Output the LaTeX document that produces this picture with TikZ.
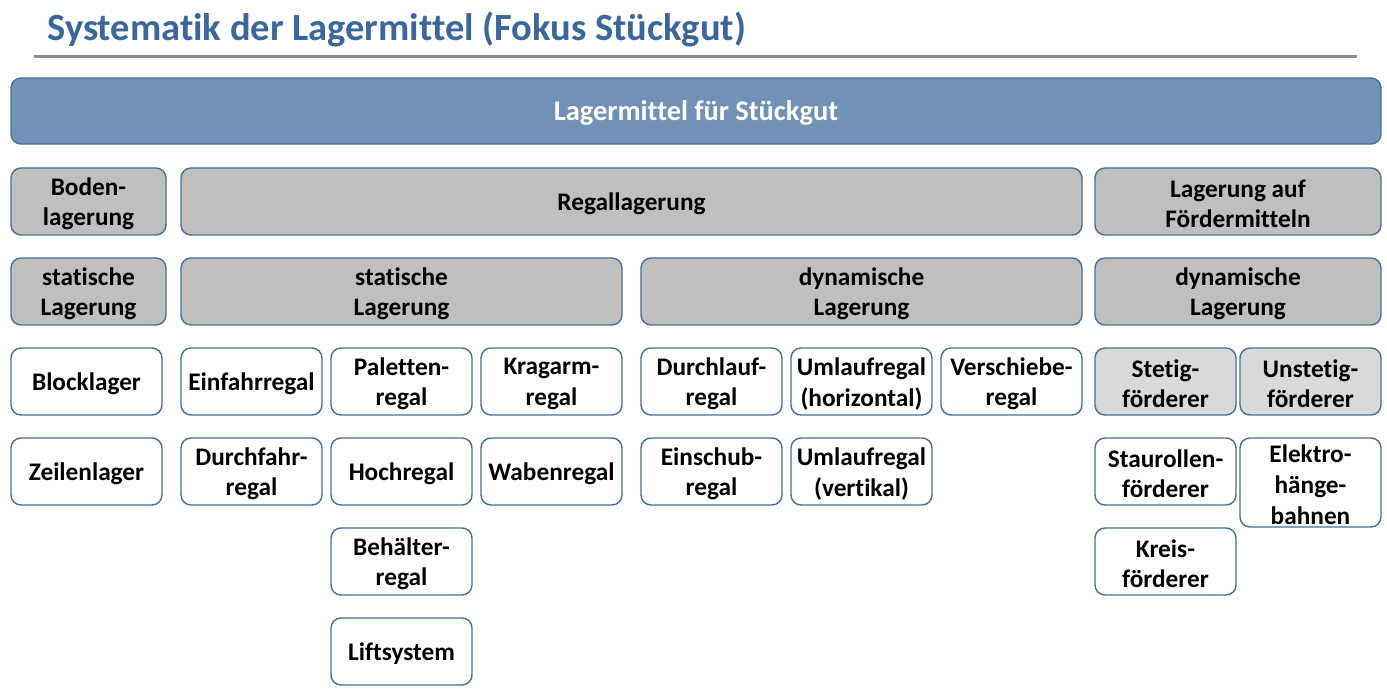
\documentclass[tikz,border=0pt]{standalone}
\usepackage{fontspec}
\setmainfont[Ligatures={NoCommon}]{Carlito}
\definecolor{titleblue}{HTML}{3A679C}
\definecolor{topfill}{HTML}{7092B6}
\definecolor{boxborder}{HTML}{41719C}
\definecolor{grayfill}{HTML}{BFBFBF}
\definecolor{lightfill}{HTML}{D9D9D9}
\definecolor{rulegray}{HTML}{8C8C8C}
\newcommand{\mybox}[7]{%
  \node[#6, minimum width={(#4-#2)*0.02cm}, minimum height={(#5-#3)*0.02cm}]
    (#1) at ({(#2+#4)/2},{(#3+#5)/2}) {};
  \node[boxtext, #6text] (#1-t) at ([yshift=-0.045cm]#1.center) {#7};}
\begin{document}
\begin{tikzpicture}[x=0.02cm,y=-0.02cm,
  basebox/.style={draw=boxborder, line width=0.8pt, rounded corners=0.2cm, inner sep=0pt},
  boxtext/.style={align=center, inner sep=0pt, font=\fontsize{14.4pt}{17.5pt}\selectfont\bfseries},
  topbox/.style={basebox, fill=topfill},
  topboxtext/.style={text=white, font=\fontsize{16.2pt}{19pt}\selectfont\bfseries},
  graybox/.style={basebox, fill=grayfill},
  grayboxtext/.style={},
  lightbox/.style={basebox, fill=lightfill},
  lightboxtext/.style={},
  whitebox/.style={basebox, fill=white},
  whiteboxtext/.style={},
  titletext/.style={font=\fontsize{21.9pt}{26pt}\selectfont\bfseries, text=titleblue, inner sep=0pt}]
\fill[white] (0,0) rectangle (1387,692);
\useasboundingbox (0,0) rectangle (1387,692);
\node[titletext, anchor=base west] (title) at (47,41) {Systematik der Lagermittel (Fokus Stückgut)};
\coordinate (rl) at (34,57);
\coordinate (rr) at (1357,57);
\draw[rulegray, line width=0.06cm] (rl) -- (rr);
% top
\mybox{top}{11}{78}{1381}{144}{topbox}{Lagermittel für Stückgut}
% row 1
\mybox{boden}{11}{168}{166}{235}{graybox}{Boden-\\lagerung}
\mybox{regal}{181}{168}{1082}{235}{graybox}{Regallagerung}
\mybox{foerder}{1095}{168}{1381}{235}{graybox}{Lagerung auf\\Fördermitteln}
% row 2
\mybox{stat1}{11}{258}{166}{325}{graybox}{statische\\Lagerung}
\mybox{stat2}{181}{258}{622}{325}{graybox}{statische\\Lagerung}
\mybox{dyn1}{641}{258}{1082}{325}{graybox}{dynamische\\Lagerung}
\mybox{dyn2}{1095}{258}{1381}{325}{graybox}{dynamische\\Lagerung}
% row 3
\mybox{block}{11}{348}{162}{415}{whitebox}{Blocklager}
\mybox{einfahr}{181}{348}{322}{415}{whitebox}{Einfahrregal}
\mybox{palett}{331}{348}{472}{415}{whitebox}{Paletten-\\regal}
\mybox{krag}{481}{348}{622}{415}{whitebox}{Kragarm-\\regal}
\mybox{durchlauf}{641}{348}{782}{415}{whitebox}{Durchlauf-\\regal}
\mybox{umlaufh}{791}{348}{932}{415}{whitebox}{Umlaufregal\\(horizontal)}
\mybox{verschiebe}{941}{348}{1082}{415}{whitebox}{Verschiebe-\\regal}
\mybox{stetig}{1095}{348}{1236}{415}{lightbox}{Stetig-\\förderer}
\mybox{unstetig}{1240}{348}{1381}{415}{lightbox}{Unstetig-\\förderer}
% row 4
\mybox{zeilen}{11}{438}{162}{505}{whitebox}{Zeilenlager}
\mybox{durchfahr}{181}{438}{322}{505}{whitebox}{Durchfahr-\\regal}
\mybox{hoch}{331}{438}{472}{505}{whitebox}{Hochregal}
\mybox{waben}{481}{438}{622}{505}{whitebox}{Wabenregal}
\mybox{einschub}{641}{438}{782}{505}{whitebox}{Einschub-\\regal}
\mybox{umlaufv}{791}{438}{932}{505}{whitebox}{Umlaufregal\\(vertikal)}
\mybox{stau}{1095}{438}{1236}{505}{whitebox}{Staurollen-\\förderer}
\mybox{elektro}{1240}{438}{1381}{527}{whitebox}{Elektro-\\hänge-\\bahnen}
% row 5
\mybox{behaelter}{331}{528}{472}{595}{whitebox}{Behälter-\\regal}
\mybox{kreis}{1095}{528}{1236}{595}{whitebox}{Kreis-\\förderer}
% row 6
\mybox{lift}{331}{618}{472}{685}{whitebox}{Liftsystem}
\end{tikzpicture}
\end{document}
